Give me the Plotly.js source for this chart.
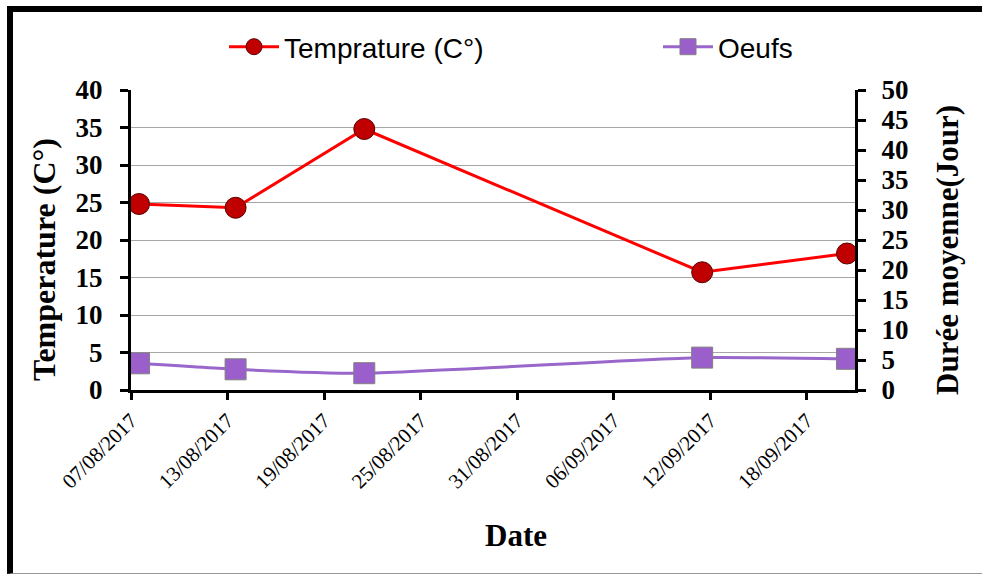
<!DOCTYPE html>
<html>
<head>
<meta charset="utf-8">
<script src="https://cdn.plot.ly/plotly-3.0.1.min.js"></script>
<style>
  html, body { margin: 0; padding: 0; background: #ffffff; }
  #wrap { position: relative; width: 982px; height: 574px; overflow: hidden; }
  #chart { position: absolute; left: 0; top: 0; width: 982px; height: 574px; }
  #frame { position: absolute; left: 7px; top: 6px; width: 990px; height: 561px;
           border-left: 6px solid #000; border-top: 6px solid #000; border-bottom: 1px solid #999;
           pointer-events: none; }
</style>
</head>
<body>
<div id="wrap">
  <div id="chart"></div>
  <div id="frame"></div>
</div>
<script>
// ---- data ----
const dates = ['2017-08-07', '2017-08-13', '2017-08-21', '2017-09-11', '2017-09-20'];
const temperature = [24.8, 24.3, 34.8, 15.7, 18.2];
const oeufs = [4.45, 3.45, 2.8, 5.4, 5.2];
const seriesNames = ['Temprature (C°)', 'Oeufs'];
const xTitle = 'Date';
const yLeftTitle = 'Temperature (C°)';
const yRightTitle = 'Durée moyenne(Jour)';

const serif = 'Liberation Serif, Times New Roman, serif';
const sans = 'Liberation Sans, Arial, sans-serif';
const DAY = 86400000;

const traces = [
  {
    x: dates, y: temperature, name: seriesNames[0], type: 'scatter', mode: 'lines+markers',
    xperiod: DAY, xperiodalignment: 'middle',
    line: { color: '#FF0000', width: 3 },
    marker: { symbol: 'circle', size: 21, color: '#C00000', line: { color: '#5a0000', width: 1 } },
    yaxis: 'y', legend: 'legend'
  },
  {
    x: dates, y: oeufs, name: seriesNames[1], type: 'scatter', mode: 'lines+markers',
    xperiod: DAY, xperiodalignment: 'middle',
    line: { color: '#9966CC', width: 3, shape: 'spline', smoothing: 0.5 },
    marker: { symbol: 'square', size: 21, color: '#9B5FCB', line: { color: '#808080', width: 1 } },
    yaxis: 'y2', legend: 'legend2'
  }
];

const legendBase = {
  xref: 'container', yref: 'container', xanchor: 'left', yanchor: 'middle',
  font: { family: sans, size: 28, color: '#000' },
  bgcolor: 'rgba(0,0,0,0)', itemwidth: 50, orientation: 'h'
};

const layout = {
  width: 982, height: 574,
  margin: { l: 131, r: 127, t: 90, b: 184, pad: 0 },
  paper_bgcolor: 'rgba(0,0,0,0)', plot_bgcolor: 'rgba(0,0,0,0)',
  showlegend: true,
  legend: Object.assign({}, legendBase, { x: 224 / 982, y: 1 - 47 / 574 }),
  legend2: Object.assign({}, legendBase, { x: 658 / 982, y: 1 - 47 / 574 }),
  xaxis: {
    type: 'date', range: ['2017-08-07', '2017-09-21'],
    tick0: '2017-08-07', dtick: 6 * DAY, tickformat: '%d/%m/%Y', tickangle: -45,
    tickfont: { family: serif, size: 21, color: '#000' },
    showline: true, linecolor: '#000', linewidth: 3, mirror: false,
    ticks: 'outside', ticklen: 7, tickwidth: 3, tickcolor: '#000',
    showgrid: false, zeroline: false, fixedrange: true, automargin: false
  },
  yaxis: {
    range: [0, 40], dtick: 5, tick0: 0,
    tickfont: { family: serif, size: 27, color: '#000', weight: 'bold' },
    ticklabelstandoff: 12,
    showline: true, linecolor: '#000', linewidth: 3,
    ticks: 'outside', ticklen: 8, tickwidth: 3, tickcolor: '#000',
    showgrid: true, gridcolor: '#A6A6A6', gridwidth: 1, zeroline: false, fixedrange: true, automargin: false
  },
  yaxis2: {
    range: [0, 50], dtick: 5, tick0: 0, overlaying: 'y', side: 'right',
    tickfont: { family: serif, size: 27, color: '#000', weight: 'bold' },
    ticklabelstandoff: 10,
    showline: true, linecolor: '#000', linewidth: 3,
    ticks: 'outside', ticklen: 8, tickwidth: 3, tickcolor: '#000',
    showgrid: false, zeroline: false, fixedrange: true, automargin: false
  },
  annotations: [
    { text: xTitle, xref: 'paper', yref: 'paper', x: 0.532, y: -0.485, xanchor: 'center', yanchor: 'middle',
      showarrow: false, font: { family: serif, size: 31, color: '#000', weight: 'bold' } },
    { text: yLeftTitle, xref: 'paper', yref: 'paper', x: (44 - 131) / 724, y: (390 - 260) / 300,
      xanchor: 'center', yanchor: 'middle', textangle: -90,
      showarrow: false, font: { family: serif, size: 32, color: '#000', weight: 'bold' } },
    { text: yRightTitle, xref: 'paper', yref: 'paper', x: (947 - 131) / 724, y: (390 - 250) / 300,
      xanchor: 'center', yanchor: 'middle', textangle: -90,
      showarrow: false, font: { family: serif, size: 31, color: '#000', weight: 'bold' } }
  ]
};

Plotly.newPlot('chart', traces, layout, { displayModeBar: false, staticPlot: true });
</script>
</body>
</html>
